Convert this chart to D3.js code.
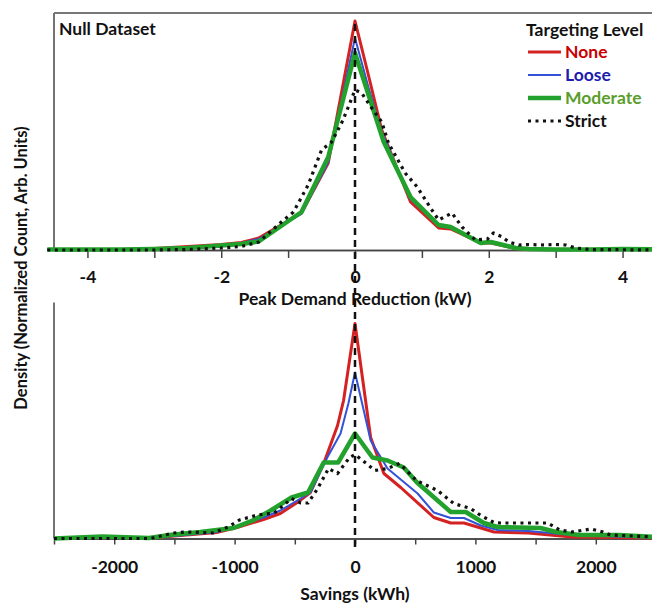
<!DOCTYPE html>
<html lang="en">
<head>
<meta charset="utf-8">
<title>Null Dataset</title>
<style>
  body { margin: 0; background: #fff; }
  svg text { font-family: Lato, "Open Sans", sans-serif; font-weight: bold; }
  .axis .domain { stroke: #444; stroke-width: 1.5; }
  .axis line { stroke: #444; stroke-width: 1.5; }
</style>
</head>
<body>
<script src="https://d3js.org/d3.v7.min.js"></script>
<svg id="chart" width="652" height="605"></svg>
<script>
  // ---- data (density in arbitrary units) ----
  const seriesNames = ["None", "Loose", "Moderate", "Strict"];

  // top panel: peak demand reduction (kW)
  const topNone = [[-4.6,0.5],[-4,0.5],[-3.5,0.5],[-3,1.5],[-2.5,3.5],[-2,5.5],[-1.7,7.5],[-1.44,12],[-0.8,37],[-0.4,87],[0,229],[0.2,175],[0.4,120],[0.83,48],[1.25,22],[1.43,21],[1.88,7],[2.03,7],[2.4,1.5],[2.6,0.5],[4.6,0.5]];
  const topLoose = [[-4.6,0.5],[-4,0.5],[-3.5,0.5],[-3,1.5],[-2.5,3],[-2,5],[-1.7,7],[-1.44,11],[-0.8,36],[-0.4,88],[0,212],[0.2,163],[0.4,118],[0.83,51],[1.25,24],[1.43,22],[1.88,8],[2.03,7.5],[2.4,1.5],[2.6,0.5],[4.6,0.5]];
  const topModerate = [[-4.6,0.5],[-4,0.5],[-3.5,0.5],[-3,1],[-2.5,2],[-2,4.5],[-1.7,6],[-1.44,8.5],[-0.8,38],[-0.4,93],[0,197],[0.43,108],[0.83,53],[1.25,25],[1.43,23],[1.88,7],[2.03,8],[2.4,2],[2.6,1],[3,0.5],[3.5,0.5],[4,1],[4.6,0.5]];
  const topStrict = [[-4.6,0],[-3,0],[-2.5,0.5],[-2,2],[-1.7,3.5],[-1.44,8],[-1.1,28],[-0.92,38],[-0.7,65],[-0.5,100],[-0.35,108],[-0.2,127],[-0.1,143],[0,160],[0.1,157],[0.25,142],[0.4,128],[0.5,107],[0.75,77],[0.93,63],[1.12,43],[1.25,30],[1.45,37],[1.6,23],[1.8,10],[1.98,11],[2.07,17],[2.2,13],[2.3,8],[2.45,5],[2.6,5.5],[2.8,5],[3.0,5.5],[3.15,5],[3.3,2],[3.5,0.5],[4.6,0]];

  // bottom panel: savings (kWh)
  const botNone = [[-2500,0],[-2100,1.5],[-1700,0.5],[-1500,2.5],[-1150,6],[-980,11],[-760,19],[-620,25],[-480,36],[-370,46],[-260,75],[-145,113],[-95,138],[0,215],[130,101],[240,65],[380,51],[655,21],[795,15.5],[905,15.5],[1045,10.5],[1155,6.5],[1440,5.5],[1800,1.5],[2500,0.5]];
  const botLoose = [[-2500,0],[-2100,1.5],[-1700,0.5],[-1500,2.5],[-1150,6.5],[-980,12],[-760,21],[-620,28],[-480,38],[-370,46],[-230,81],[-120,105],[-55,135],[0,166],[130,98],[270,70],[520,45],[655,26],[795,20.5],[905,20.5],[1045,13],[1185,8.5],[1440,7.5],[1800,3.5],[2500,0.5]];
  const botModerate = [[-2500,0],[-2100,2],[-1710,0.5],[-1540,3.5],[-1285,6.5],[-1010,10.5],[-850,18],[-700,28],[-527,41],[-390,46],[-260,76],[-140,76],[0,105],[145,81],[270,78],[405,71],[515,56],[795,26.5],[920,26.5],[1070,15.5],[1185,11.5],[1540,10.5],[1670,6.5],[1865,3.5],[2190,3.5],[2500,1.5]];
  const botStrict = [[-2500,0],[-1700,0],[-1510,5.5],[-1400,6.5],[-1180,5.5],[-1055,11.5],[-960,18.5],[-810,23.5],[-670,25.5],[-527,40],[-450,35.5],[-390,35.5],[-310,50],[-220,70],[-145,65],[-45,81],[0,84],[95,75],[165,68],[270,70],[370,75],[510,58],[685,48],[820,35],[960,30],[1045,23],[1155,16],[1210,15.5],[1600,15.5],[1700,8.5],[1800,6.5],[1960,9.5],[2060,6.5],[2120,3.5],[2500,1.5]];

  const topMajor = [-4, -2, 0, 2, 4];
  const topMinor = [-3, -1, 1, 3];
  const botMajor = [-2000, -1000, 0, 1000, 2000];
  const botMinor = [-2500, -1500, -500, 500, 1500];

  // ---- styles ----
  const lineColor = { None: "#d42222", Loose: "#3352d6", Moderate: "#22a22c", Strict: "#111" };
  const textColor = { None: "#cc0000", Loose: "#1c1cae", Moderate: "#5a9e2c", Strict: "#111" };
  const lineWidth = { None: 3, Loose: 2, Moderate: 4.5, Strict: 3.2 };
  const dash = { Strict: "3,4.5" };

  const svg = d3.select("#chart");
  const left = 54, right = 656;

  const panels = [
    { data: [topNone, topLoose, topModerate, topStrict], dom: [-4.5, 4.5], base: 250, top: 13, hmax: 237,
      major: topMajor, minor: topMinor, tick: 8, pad: 13, label: "Peak Demand Reduction (kW)", labelY: 305, frameTop: true },
    { data: [botNone, botLoose, botModerate, botStrict], dom: [-2500, 2500], base: 538.5, top: 302.5, hmax: 236,
      major: botMajor, minor: botMinor, tick: 6, pad: 16, label: "Savings (kWh)", labelY: 600, frameTop: false }
  ];

  panels.forEach(p => {
    const x = d3.scaleLinear().domain(p.dom).range([left, right]);
    const y = d3.scaleLinear().domain([0, p.hmax]).range([p.base, p.top]);
    p.x = x;

    // left frame line
    svg.append("line")
      .attr("x1", left).attr("x2", left)
      .attr("y1", p.top).attr("y2", p.base)
      .attr("stroke", "#444").attr("stroke-width", 1.5);
    if (p.frameTop) {
      svg.append("line")
        .attr("x1", left).attr("x2", 652)
        .attr("y1", p.top).attr("y2", p.top)
        .attr("stroke", "#777").attr("stroke-width", 2);
    }

    // axes
    svg.append("g").attr("class", "axis")
      .attr("transform", `translate(0,${p.base})`)
      .call(d3.axisBottom(x).tickValues(p.minor).tickSize(p.tick).tickSizeOuter(0).tickFormat(""));
    const ax = svg.append("g").attr("class", "axis")
      .attr("transform", `translate(0,${p.base})`)
      .call(d3.axisBottom(x).tickValues(p.major).tickSize(p.tick).tickSizeOuter(0).tickPadding(p.pad)
        .tickFormat(d => d < 0 ? "-" + Math.abs(d) : d));
    ax.selectAll("text").attr("font-size", 17.5).attr("fill", "#111");

    svg.append("text")
      .attr("x", x(0)).attr("y", p.labelY)
      .attr("text-anchor", "middle")
      .attr("font-size", 17.5).attr("fill", "#111")
      .text(p.label);

    const line = d3.line().x(d => x(d[0])).y(d => y(d[1]));
    seriesNames.forEach((name, i) => {
      svg.append("path")
        .datum(p.data[i])
        .attr("d", line)
        .attr("fill", "none")
        .attr("stroke", lineColor[name])
        .attr("stroke-width", lineWidth[name])
        .attr("stroke-linejoin", "round")
        .attr("stroke-dasharray", dash[name] || null);
    });
  });

  // dashed zero line through both panels
  svg.append("line")
    .attr("x1", panels[0].x(0)).attr("x2", panels[0].x(0))
    .attr("y1", 24).attr("y2", 548)
    .attr("stroke", "#111").attr("stroke-width", 2.5)
    .attr("stroke-dasharray", "7,5");

  // title
  svg.append("text")
    .attr("x", 59).attr("y", 35)
    .attr("font-size", 17.5).attr("fill", "#111")
    .text("Null Dataset");

  // y label
  svg.append("text")
    .attr("transform", "translate(27,268) rotate(-90)")
    .attr("text-anchor", "middle")
    .attr("font-size", 16.5).attr("fill", "#111")
    .text("Density (Normalized Count, Arb. Units)");

  // legend
  const lg = svg.append("g").attr("transform", "translate(526,0)");
  lg.append("text").attr("x", 0).attr("y", 36)
    .attr("font-size", 17.5).attr("fill", "#111").text("Targeting Level");
  const legendY = [52, 75, 98, 121];
  seriesNames.forEach((name, i) => {
    lg.append("line")
      .attr("x1", 2).attr("x2", 35)
      .attr("y1", legendY[i]).attr("y2", legendY[i])
      .attr("stroke", lineColor[name])
      .attr("stroke-width", lineWidth[name])
      .attr("stroke-dasharray", dash[name] || null);
    lg.append("text")
      .attr("x", 39).attr("y", legendY[i])
      .attr("dy", "0.36em")
      .attr("font-size", 17.5)
      .attr("fill", textColor[name])
      .text(name);
  });
</script>
</body>
</html>
